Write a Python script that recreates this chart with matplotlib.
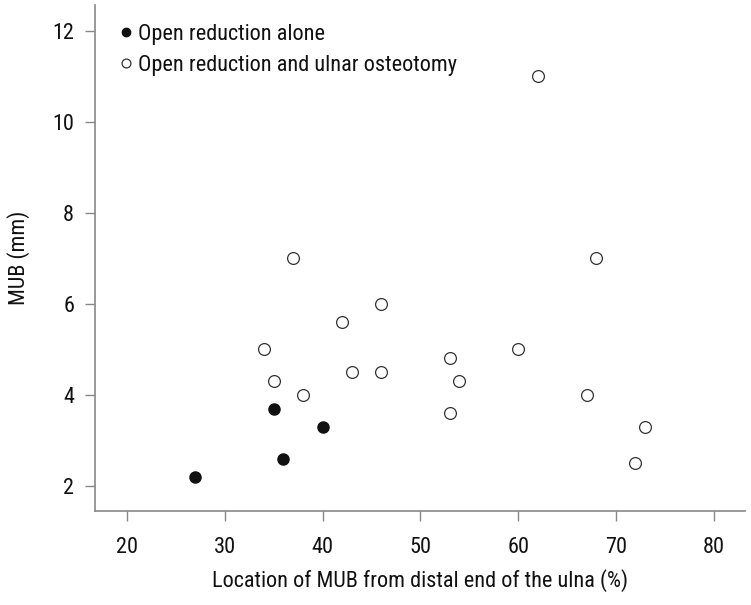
import matplotlib
matplotlib.use("Agg")
import matplotlib.pyplot as plt
from matplotlib import font_manager

names = {f.name for f in font_manager.fontManager.ttflist}
fam = 'DejaVu Sans'
for cand in ['Roboto Condensed', 'Archivo Narrow', 'PT Sans Narrow', 'Barlow Condensed', 'Liberation Sans']:
    if cand in names:
        fam = cand
        break
plt.rcParams['font.family'] = [fam, 'DejaVu Sans']
plt.rcParams['font.weight'] = 'normal'
plt.rcParams['axes.labelweight'] = 'normal'

# Data
alone_x = [27, 35, 36, 40]
alone_y = [2.2, 3.7, 2.6, 3.3]
osteo_x = [34, 35, 37, 38, 42, 43, 46, 46, 53, 53, 54, 60, 62, 67, 68, 72, 73]
osteo_y = [5.0, 4.3, 7.0, 4.0, 5.6, 4.5, 6.0, 4.5, 4.8, 3.6, 4.3, 5.0, 11.0, 4.0, 7.0, 2.5, 3.3]
xticks = [20, 30, 40, 50, 60, 70, 80]
yticks = [2, 4, 6, 8, 10, 12]
label_alone = "Open reduction alone"
label_osteo = "Open reduction and ulnar osteotomy"
xlabel = "Location of MUB from distal end of the ulna (%)"
ylabel = "MUB (mm)"

FS = 16
TC = '#111111'

fig = plt.figure(figsize=(7.51, 6.05), dpi=100)
ax = fig.add_axes([95/751, 94/605, 650/751, 506/605])

ax.plot(alone_x, alone_y, 'o', ms=8, mfc='#111111', mec='#111111', mew=1, label=label_alone)
ax.plot(osteo_x, osteo_y, 'o', ms=8.5, mfc='white', mec='#333333', mew=0.9, label=label_osteo)

ax.set_xlim(16.73, 83.2)
ax.set_ylim(1.45, 12.56)
ax.set_xticks(xticks)
ax.set_yticks(yticks)
ax.tick_params(labelsize=FS, length=7, width=1, color='#888888', direction='out', labelcolor=TC)
ax.tick_params(axis='x', pad=12)
ax.tick_params(axis='y', pad=8)
for s in ['top', 'right']:
    ax.spines[s].set_visible(False)
for s in ['left', 'bottom']:
    ax.spines[s].set_color('#888888')
    ax.spines[s].set_linewidth(1.2)

ax.set_xlabel(xlabel, fontsize=FS, labelpad=8, color=TC)
ax.set_ylabel(ylabel, fontsize=FS, labelpad=16, color=TC)

leg = ax.legend(loc='upper left', bbox_to_anchor=(0.005, 0.993), frameon=False, fontsize=FS,
                handletextpad=0.0, handlelength=1.1, labelspacing=0.45, markerscale=0.75,
                borderaxespad=0.3)
for t in leg.get_texts():
    t.set_color(TC)

fig.savefig("out.png", dpi=100)
